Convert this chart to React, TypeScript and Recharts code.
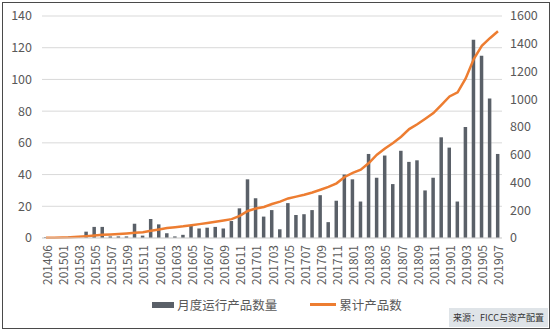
import { Bar, CartesianGrid, ComposedChart, Legend, Line, XAxis, YAxis } from "recharts";

const months = [
  "201406", "201412",
  "201501", "201502", "201503", "201504", "201505", "201506", "201507", "201508", "201509", "201510", "201511", "201512",
  "201601", "201602", "201603", "201604", "201605", "201606", "201607", "201608", "201609", "201610", "201611", "201612",
  "201701", "201702", "201703", "201704", "201705", "201706", "201707", "201708", "201709", "201710", "201711", "201712",
  "201801", "201802", "201803", "201804", "201805", "201806", "201807", "201808", "201809", "201810", "201811", "201812",
  "201901", "201902", "201903", "201904", "201905", "201906", "201907",
];

// 月度运行产品数量
const monthlyCount = [
  0.5, 0.5,
  0.5, 1, 1, 4, 7, 7, 1, 1, 1, 9, 1.5, 12,
  8.6, 3, 1, 2, 8, 6, 6.5, 7, 6, 10.7, 18.7, 37,
  25, 13.5, 17.6, 5.5, 22, 14.5, 15, 17.6, 27, 10, 23.5, 40,
  37, 23, 53, 38, 52, 34, 55, 48, 49, 30, 38, 63.5,
  57, 23, 70, 125, 115, 88, 53,
];

// 累计产品数
const cumulativeCount = [
  2, 2,
  3, 5, 9, 13, 18, 23, 26, 29, 33, 38, 42, 52,
  62, 72, 78, 84, 92, 100, 108, 117, 126, 136, 160, 195,
  212, 224, 245, 262, 285, 298, 312, 328, 348, 368, 394, 440,
  470, 492, 540, 600, 645, 685, 730, 785, 820, 860, 900, 960,
  1020, 1050, 1150, 1290, 1385, 1440, 1490,
];

const leftTicks = [0, 20, 40, 60, 80, 100, 120, 140];
const rightTicks = [0, 200, 400, 600, 800, 1000, 1200, 1400, 1600];

const rows = months.map((m, i) => ({ month: m, monthly: monthlyCount[i], total: cumulativeCount[i] }));

const FONT = '"Noto Sans CJK SC", "Noto Sans", sans-serif';
const TEXT = "#595959";

function MonthTick({ x, y, payload }: any) {
  return (
    <text
      x={x}
      y={y}
      transform={`rotate(-90 ${x} ${y})`}
      textAnchor="end"
      dominantBaseline="central"
      fontSize={12}
      fill={TEXT}
      fontFamily={FONT}
    >
      {payload.value}
    </text>
  );
}

function ChartLegend({ payload }: any) {
  return (
    <div style={{ display: "flex", justifyContent: "center", gap: 33, fontSize: 12.5, color: TEXT, fontFamily: FONT }}>
      {(payload || []).map((p: any) => (
        <span key={p.value} style={{ display: "flex", alignItems: "center" }}>
          {p.type === "line" ? (
            <span style={{ width: 26, height: 2.5, background: p.color, marginRight: 3 }} />
          ) : (
            <span style={{ width: 22, height: 6, background: p.color, marginRight: 3 }} />
          )}
          {p.value}
        </span>
      ))}
    </div>
  );
}

export default function App() {
  return (
    <div style={{ position: "absolute", left: 0, top: 0, width: 554, height: 334, background: "#fff", fontFamily: FONT }}>
      <div
        style={{
          position: "absolute",
          left: 2,
          top: 2,
          width: 546,
          height: 325,
          border: "1.5px solid #4a4a4a",
        }}
      />
      <ComposedChart width={554} height={334} data={rows} margin={{ top: 16, right: 0, left: 0, bottom: 0 }}>
        <CartesianGrid vertical={false} stroke="#d9d9d9" yAxisId="left" />
        <XAxis
          dataKey="month"
          interval={1}
          height={96}
          tick={<MonthTick />}
          tickLine={false}
          tickSize={0}
          tickMargin={7}
          axisLine={{ stroke: "#d9d9d9" }}
        />
        <YAxis
          yAxisId="left"
          width={42}
          domain={[0, 140]}
          ticks={leftTicks}
          tickLine={false}
          axisLine={false}
          tickSize={0}
          tickMargin={10}
          tick={{ fontSize: 12.5, fill: TEXT, fontFamily: FONT }}
        />
        <YAxis
          yAxisId="right"
          orientation="right"
          width={52}
          domain={[0, 1600]}
          ticks={rightTicks}
          tickLine={false}
          axisLine={false}
          tickSize={0}
          tickMargin={8}
          tick={{ fontSize: 12.5, fill: TEXT, fontFamily: FONT, textAnchor: "start" }}
        />
        <Legend
          layout="horizontal"
          verticalAlign="middle"
          align="center"
          content={<ChartLegend />}
          wrapperStyle={{ top: 295, left: 0, width: 554 }}
        />
        <Bar yAxisId="left" dataKey="monthly" name="月度运行产品数量" fill="#5a6068" barSize={3.5} legendType="rect" isAnimationActive={false} />
        <Line
          yAxisId="right"
          dataKey="total"
          name="累计产品数"
          type="linear"
          stroke="#ed7d31"
          strokeWidth={2.5}
          dot={false}
          activeDot={false}
          legendType="line"
          isAnimationActive={false}
        />
      </ComposedChart>
      <div
        style={{
          position: "absolute",
          left: 449,
          top: 308,
          width: 99,
          height: 19,
          background: "#dfe4e8",
          fontSize: 9,
          lineHeight: "19px",
          color: "#333",
          textAlign: "center",
          fontFamily: FONT,
        }}
      >
        来源：FICC与资产配置
      </div>
    </div>
  );
}
